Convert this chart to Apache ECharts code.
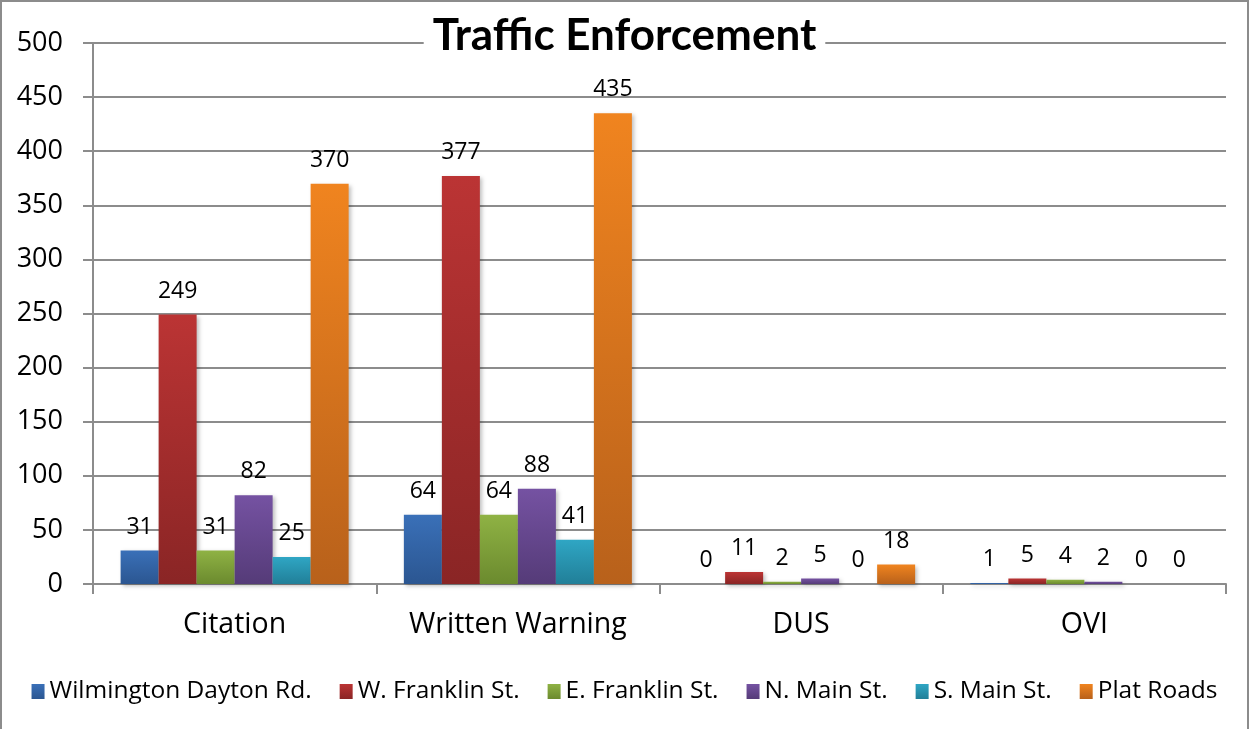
<!DOCTYPE html>
<html>
<head>
<meta charset="utf-8">
<script src="https://cdn.jsdelivr.net/npm/echarts@6/dist/echarts.min.js"></script>
<style>
  html, body { margin: 0; padding: 0; background: #fff; }
  #main { width: 1249px; height: 729px; box-sizing: border-box; border: 2px solid #8c8c8c; border-bottom: none; }
</style>
</head>
<body>
<div id="main"></div>
<script>
var categories = ["Citation", "Written Warning", "DUS", "OVI"];
var seriesNames = ["Wilmington Dayton Rd.", "W. Franklin St.", "E. Franklin St.", "N. Main St.", "S. Main St.", "Plat Roads"];
var wilmington = [31, 64, 0, 1];
var wFranklin = [249, 377, 11, 5];
var eFranklin = [31, 64, 2, 4];
var nMain = [82, 88, 5, 2];
var sMain = [25, 41, 0, 0];
var platRoads = [370, 435, 18, 0];
var yTicks = [0, 50, 100, 150, 200, 250, 300, 350, 400, 450, 500];

var seriesData = [wilmington, wFranklin, eFranklin, nMain, sMain, platRoads];
var colorsTop = ["#3a70b8", "#bb3434", "#8fb244", "#7552a2", "#2fa6c4", "#f0841f"];
var colorsBottom = ["#2b5691", "#8a2525", "#6b8a2e", "#553b78", "#217f98", "#b8611b"];

var font = "'Open Sans', 'Noto Sans', sans-serif";

var myChart = echarts.init(document.getElementById("main"));
var option;

option = {
  animation: false,
  textStyle: { fontFamily: font },
  title: {
    text: "Traffic Enforcement",
    left: "center",
    top: 12,
    backgroundColor: "#fff",
    padding: [0, 9],
    textStyle: { fontSize: 44, fontWeight: "bold", color: "#000", fontFamily: "Lato, sans-serif" }
  },
  grid: { left: 91, right: 21, top: 41, bottom: 145, containLabel: false },
  legend: {
    bottom: 20,
    left: "center",
    itemWidth: 13,
    itemHeight: 15,
    itemGap: 28,
    icon: "rect",
    textStyle: { fontSize: 24.5, color: "#000", fontFamily: font },
    data: seriesNames
  },
  xAxis: {
    type: "category",
    data: categories,
    axisLine: { lineStyle: { color: "#8c8c8c", width: 2 } },
    axisTick: { show: true, length: 10, lineStyle: { color: "#8c8c8c", width: 2 } },
    axisLabel: { fontSize: 28.5, color: "#000", margin: 26, fontFamily: font }
  },
  yAxis: {
    type: "value",
    min: 0,
    max: 500,
    interval: 50,
    axisLine: { show: true, lineStyle: { color: "#8c8c8c", width: 2 } },
    axisTick: { show: true, length: 10, lineStyle: { color: "#8c8c8c", width: 2 } },
    splitLine: { lineStyle: { color: "#8c8c8c", width: 2 } },
    axisLabel: {
      fontSize: 27,
      color: "#000",
      margin: 30,
      fontFamily: font,
      formatter: function (v) { return yTicks.indexOf(v) >= 0 ? String(v) : ""; }
    }
  },
  series: seriesNames.map(function (name, i) {
    return {
      name: name,
      type: "bar",
      data: seriesData[i],
      barGap: "0%",
      barCategoryGap: "19.5%",
      itemStyle: {
        color: new echarts.graphic.LinearGradient(0, 0, 0, 1, [
          { offset: 0, color: colorsTop[i] },
          { offset: 1, color: colorsBottom[i] }
        ]),
        shadowColor: "rgba(0,0,0,0.25)",
        shadowBlur: 4,
        shadowOffsetX: 2,
        shadowOffsetY: 2
      },
      label: {
        show: true,
        position: "top",
        distance: 12,
        fontSize: 23,
        color: "#000",
        fontFamily: font
      }
    };
  })
};

option && myChart.setOption(option);
</script>
</body>
</html>
